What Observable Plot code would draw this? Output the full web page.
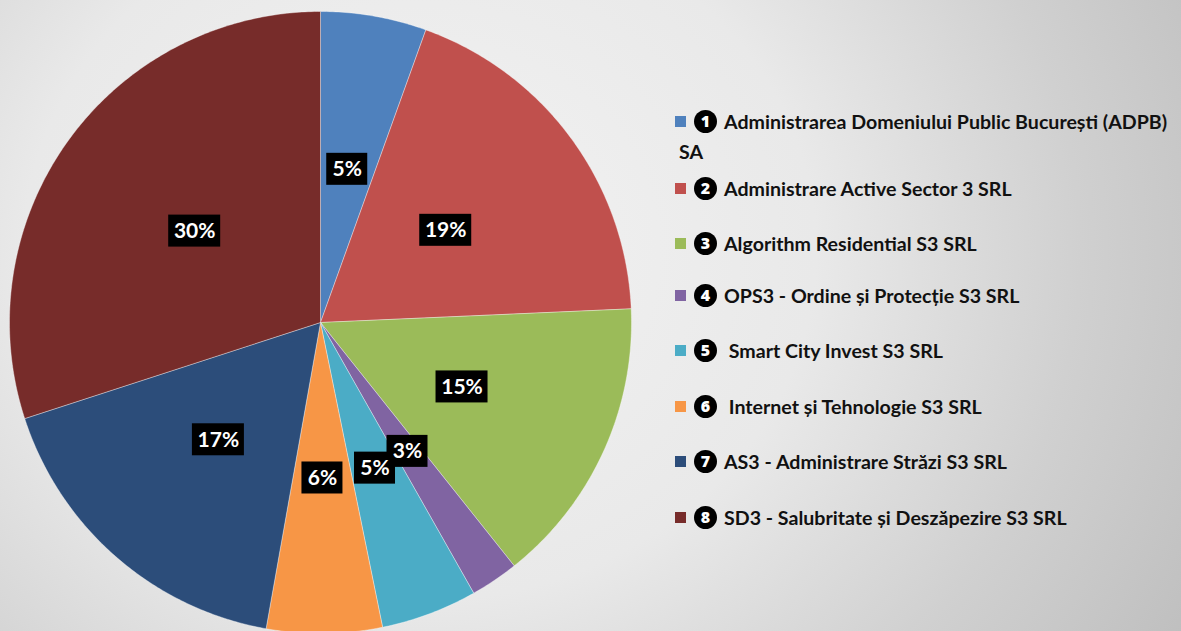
<!DOCTYPE html>
<html>
<head>
<meta charset="utf-8">
<script src="https://cdn.jsdelivr.net/npm/d3@7"></script>
<script src="https://cdn.jsdelivr.net/npm/@observablehq/plot@0.6"></script>
<style>
  html, body { margin: 0; padding: 0; }
  #wrap {
    position: relative; width: 1181px; height: 631px; overflow: hidden;
    background: radial-gradient(ellipse 880px 780px at 420px 250px, #f3f3f3 0%, #e9e9e9 45%, #d0d0d0 75%, #bfbfbf 100%);
  }
  #chart { position: absolute; left: 0; top: 0; }
  .item { position: absolute; left: 675px; display: flex; align-items: center; font-family: Lato, "Open Sans", sans-serif; font-weight: 700; font-size: 19.6px; color: #111; white-space: nowrap; }
  .sw { width: 11px; height: 11px; margin-right: 8px; flex: none; }
  .num { width: 23px; height: 23px; min-width: 23px; border-radius: 50%; background: #000; color: #fff; font-size: 16px; font-weight: 900; display: flex; align-items: center; justify-content: center; margin-right: 7px; flex: none; font-family: "Open Sans", sans-serif; line-height: 1; }
  .line2 { position: absolute; left: 679px; font-family: Lato, "Open Sans", sans-serif; font-weight: 700; font-size: 19.6px; color: #111; }
</style>
</head>
<body>
<div id="wrap">
  <div id="chart"></div>
  <div id="legend"></div>
</div>
<script>
const names = [
  "Administrarea Domeniului Public București (ADPB) SA",
  "Administrare Active Sector 3 SRL",
  "Algorithm Residential S3 SRL",
  "OPS3 - Ordine și Protecție S3 SRL",
  " Smart City Invest S3 SRL",
  " Internet și Tehnologie S3 SRL",
  "AS3 - Administrare Străzi S3 SRL",
  "SD3 - Salubritate și Deszăpezire S3 SRL"
];
const values = [5.5, 18.8, 15.0, 2.5, 5.0, 6.0, 17.2, 30.0];
const labels = ["5%", "19%", "15%", "3%", "5%", "6%", "17%", "30%"];
const colors = ["#4F81BD", "#C0504D", "#9BBB59", "#8064A2", "#4BACC6", "#F79646", "#2C4D7A", "#772C2A"];
const legendNumbers = ["1", "2", "3", "4", "5", "6", "7", "8"];

const arcs = d3.pie().sort(null).value(d => d)(values);

// slice polygons in data space (unit circle)
const slicePts = [];
arcs.forEach((a, i) => {
  slicePts.push({name: names[i], x: 0, y: 0});
  const n = Math.max(2, Math.ceil((a.endAngle - a.startAngle) / 0.01));
  for (let k = 0; k <= n; k++) {
    const t = a.startAngle + (a.endAngle - a.startAngle) * k / n;
    slicePts.push({name: names[i], x: Math.sin(t), y: Math.cos(t)});
  }
  slicePts.push({name: names[i], x: 0, y: 0});
});

const R = 311; // px per data unit
const labelData = arcs.map((a, i) => {
  const m = (a.startAngle + a.endAngle) / 2;
  const w = (labels[i].length === 2 ? 41 : 52) / R / 2;
  const h = 32 / R / 2;
  const x = 0.5 * Math.sin(m), y = 0.5 * Math.cos(m);
  return {label: labels[i], x, y, x1: x - w, x2: x + w, y1: y - h, y2: y + h};
});

const plot = Plot.plot({
  width: 650, height: 640,
  marginLeft: 9, marginRight: 19, marginTop: 11, marginBottom: 7,
  x: {domain: [-1, 1], axis: null},
  y: {domain: [-1, 1], axis: null},
  color: {domain: names, range: colors},
  style: {background: "transparent", overflow: "visible"},
  marks: [
    Plot.line(slicePts, {x: "x", y: "y", z: "name", fill: "name", stroke: "#ffffff", strokeOpacity: 0.45, strokeWidth: 0.8, curve: "linear"}),
    Plot.rect(labelData, {x1: "x1", x2: "x2", y1: "y1", y2: "y2", fill: "#000"}),
    Plot.text(labelData, {x: "x", y: "y", text: "label", fill: "#fff", fontSize: 21, fontWeight: "bold", fontFamily: "Lato, 'Open Sans', sans-serif"})
  ]
});
document.getElementById("chart").appendChild(plot);

// legend
const rowsY = [121, 188, 243, 295, 350, 406, 461, 517];
const legend = document.getElementById("legend");
names.forEach((n, i) => {
  const div = document.createElement("div");
  div.className = "item";
  div.style.top = (rowsY[i] - 13) + "px";
  div.style.height = "26px";
  const sw = document.createElement("span"); sw.className = "sw"; sw.style.background = colors[i];
  const num = document.createElement("span"); num.className = "num"; num.textContent = legendNumbers[i];
  const txt = document.createElement("span");
  let t = n;
  if (i === 0) t = "Administrarea Domeniului Public București (ADPB)";
  txt.textContent = t.replace(/^ /, "\u00a0");
  div.append(sw, num, txt);
  legend.appendChild(div);
});
const l2 = document.createElement("div");
l2.className = "line2"; l2.style.top = (153 - 13) + "px"; l2.textContent = "SA";
legend.appendChild(l2);
</script>
</body>
</html>
